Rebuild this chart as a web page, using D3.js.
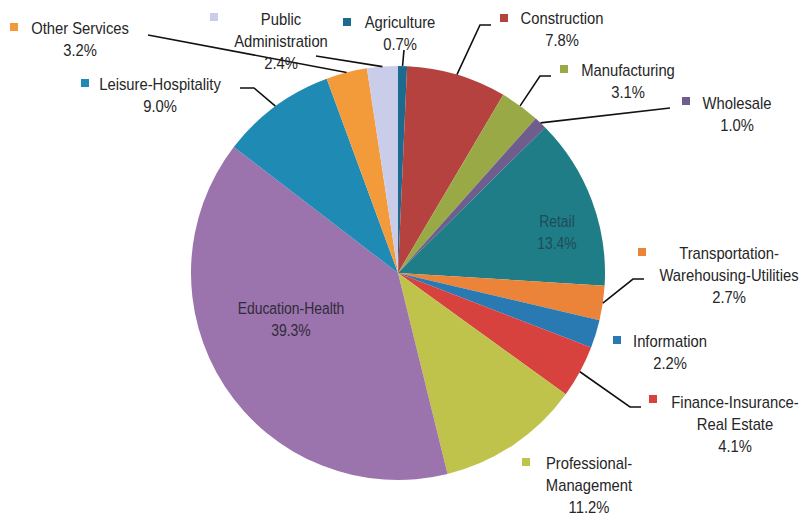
<!DOCTYPE html>
<html>
<head>
<meta charset="utf-8">
<script src="https://cdn.jsdelivr.net/npm/d3@7/dist/d3.min.js"></script>
<style>
  html, body { margin: 0; padding: 0; background: #fff; }
  svg { display: block; }
  text { font-family: "Liberation Sans", Arial, Helvetica, sans-serif; fill: #262626; }
</style>
</head>
<body>
<svg id="chart" width="801" height="519"></svg>
<script>
// Employment share by industry (percent), clockwise from 12 o'clock
const categories = [
  "Agriculture", "Construction", "Manufacturing", "Wholesale", "Retail",
  "Transportation-Warehousing-Utilities", "Information",
  "Finance-Insurance-Real Estate", "Professional-Management",
  "Education-Health", "Leisure-Hospitality", "Other Services",
  "Public Administration"
];
const shares = [0.7, 7.8, 3.1, 1.0, 13.4, 2.7, 2.2, 4.1, 11.2, 39.3, 9.0, 3.2, 2.4];
const labelLines = [
  ["Agriculture"], ["Construction"], ["Manufacturing"], ["Wholesale"], ["Retail"],
  ["Transportation-", "Warehousing-Utilities"], ["Information"],
  ["Finance-Insurance-", "Real Estate"], ["Professional-", "Management"],
  ["Education-Health"], ["Leisure-Hospitality"], ["Other Services"],
  ["Public", "Administration"]
];
const sliceColors = [
  "#1d6a8f", "#b5423f", "#98a946", "#6f5d8d", "#1f7d88",
  "#eb8439", "#2979b3", "#d8423e", "#bfc24b",
  "#9b73ad", "#1f8ab3", "#f39b3b", "#c9cdea"
];

// Label placement: text anchor (first line), legend square, leader knee points
const layout = [
  { tx: 400, ty: 22,  mk: [347, 22],  leader: [[404, 50]] },
  { tx: 562, ty: 18,  mk: [504, 18],  leader: [[480, 25], [491, 25]] },
  { tx: 628, ty: 70,  mk: [564, 69],  leader: [[540, 76], [551, 76]] },
  { tx: 737, ty: 103, mk: [686, 101], leader: [[670, 108]] },
  { tx: 557, ty: 221, inside: true },
  { tx: 729, ty: 253, mk: [642, 252], leader: [[633, 279], [644, 279]] },
  { tx: 670, ty: 341, mk: [617, 340] },
  { tx: 735, ty: 402, mk: [653, 399], leader: [[630, 407], [641, 407]] },
  { tx: 589, ty: 463, mk: [526, 462] },
  { tx: 291, ty: 308, inside: true },
  { tx: 160, ty: 84,  mk: [85, 83],   leader: [[254, 88], [240, 88]] },
  { tx: 80,  ty: 28,  mk: [14, 27],   leader: [[148, 35]] },
  { tx: 281, ty: 19,  mk: [214, 17],  leader: [[316, 56]] }
];

const cx = 398, cy = 273, R = 207;
const lineH = 22;
const squeeze = 0.87;

const svg = d3.select("#chart");
const g = svg.append("g").attr("transform", `translate(${cx},${cy})`);

const pie = d3.pie().sort(null).value(d => d);
const arcs = pie(shares);
const arc = d3.arc().innerRadius(0).outerRadius(R);

g.selectAll("path.slice")
  .data(arcs)
  .join("path")
  .attr("class", "slice")
  .attr("d", arc)
  .attr("fill", (d, i) => sliceColors[i]);

// Leader lines from the rim at each slice's mid-angle
const lineGen = d3.line();
const rimPoint = d => {
  const a = (d.startAngle + d.endAngle) / 2;
  return [cx + R * Math.sin(a), cy - R * Math.cos(a)];
};
arcs.forEach((d, i) => {
  const L = layout[i];
  if (!L.leader) return;
  const pts = [rimPoint(d), ...L.leader];
  svg.append("path")
    .attr("d", lineGen(pts))
    .attr("fill", "none")
    .attr("stroke", "#111")
    .attr("stroke-width", 1.6);
});

// Legend squares
arcs.forEach((d, i) => {
  const L = layout[i];
  if (!L.mk) return;
  svg.append("rect")
    .attr("x", L.mk[0] - 4).attr("y", L.mk[1] - 4)
    .attr("width", 8).attr("height", 8)
    .attr("fill", sliceColors[i]);
});

// Category name and percentage
const fmt = d3.format(".1f");
arcs.forEach((d, i) => {
  const L = layout[i];
  const lines = [...labelLines[i], fmt(shares[i]) + "%"];
  lines.forEach((s, k) => {
    svg.append("text")
      .attr("transform", `translate(${L.tx},${L.ty + k * lineH}) scale(${squeeze},1)`)
      .attr("text-anchor", "middle")
      .attr("dominant-baseline", "central")
      .style("font-size", L.inside ? "16px" : "17px")
      .style("fill", L.inside ? (i === 4 ? "#1e4c57" : "#302c3a") : "#262626")
      .text(s);
  });
});
</script>
</body>
</html>
